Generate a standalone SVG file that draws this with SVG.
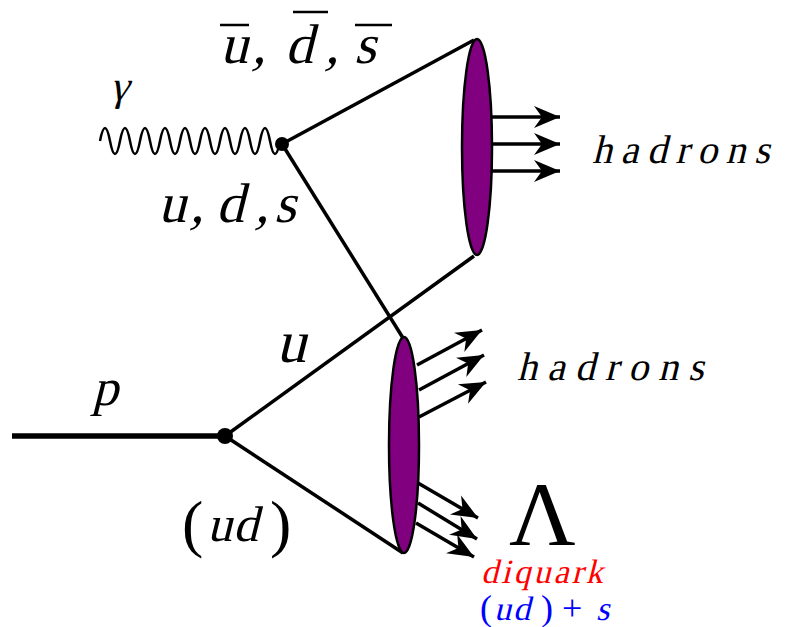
<svg xmlns="http://www.w3.org/2000/svg" width="790" height="627" viewBox="0 0 790 627">
<defs>
<marker id="ah" markerUnits="userSpaceOnUse" markerWidth="30" markerHeight="26" refX="26" refY="12" orient="auto" viewBox="0 0 30 26">
<path d="M26,12 L0,1 L8,12 L0,23 Z" fill="#000"/>
</marker>
</defs>
<g id="connectors" stroke="#000" stroke-width="3.5" fill="none">
<path id="photon" stroke-width="2.5" d="M100,141 q5,-26 10,0 t10,0 t10,0 t10,0 t10,0 t10,0 t10,0 t10,0 t10,0 t10,0 t10,0 t10,0 t10,0 t10,0 t10,0 t10,0 t10,0 t10,0"/>
<line x1="282" y1="144" x2="474" y2="40"/>
<line x1="282" y1="144" x2="403" y2="338"/>
<line x1="474" y1="256" x2="225" y2="436"/>
<line x1="225" y1="436" x2="403" y2="553"/>
<line id="proton" stroke-width="5.5" x1="12" y1="436" x2="225" y2="436"/>
<g marker-end="url(#ah)">
<line x1="490" y1="117" x2="560" y2="117"/>
<line x1="492" y1="144" x2="560" y2="144"/>
<line x1="490" y1="171" x2="560" y2="171"/>
<line x1="417" y1="365" x2="482" y2="330"/>
<line x1="419" y1="390" x2="484" y2="355"/>
<line x1="419" y1="417" x2="486" y2="382"/>
<line x1="418" y1="483" x2="478" y2="518"/>
<line x1="418" y1="503" x2="477" y2="539"/>
<line x1="416" y1="523" x2="474" y2="557"/>
</g>
</g>
<g id="vertex-top"><circle cx="282" cy="144" r="7" fill="#000"/></g>
<g id="vertex-proton"><circle cx="225" cy="436" r="8" fill="#000"/></g>
<g id="blob-top"><ellipse cx="477" cy="147" rx="15" ry="108" fill="#800080" stroke="#000" stroke-width="2.5"/></g>
<g id="blob-bottom"><ellipse cx="404" cy="445" rx="15" ry="108" fill="#800080" stroke="#000" stroke-width="2.5"/></g>
<g id="labels" font-family="Liberation Serif, Times New Roman, serif" fill="#000">
<text transform="translate(110,100) skewX(-14)" font-size="42">γ</text>
<text transform="translate(220,63) skewX(-14)" font-size="56">u</text>
<text transform="translate(252,63) skewX(-14)" font-size="56">,</text>
<text transform="translate(285,63) skewX(-14)" font-size="56">d</text>
<text transform="translate(325,63) skewX(-14)" font-size="56">,</text>
<text transform="translate(354,63) skewX(-14)" font-size="56">s</text>
<text transform="translate(158,222) skewX(-14)" font-size="56">u</text>
<text transform="translate(190,222) skewX(-14)" font-size="56">,</text>
<text transform="translate(216,222) skewX(-14)" font-size="56">d</text>
<text transform="translate(255,222) skewX(-14)" font-size="56">,</text>
<text transform="translate(274,222) skewX(-14)" font-size="56">s</text>
<text transform="translate(592,163) skewX(-14)" font-size="40" letter-spacing="8.5">hadrons</text>
<text transform="translate(517,380) skewX(-14)" font-size="40" letter-spacing="10">hadrons</text>
<text transform="translate(276,362) skewX(-14)" font-size="60">u</text>
<text transform="translate(92,405) skewX(-14)" font-size="52">p</text>
<text x="182" y="545" font-size="64">(</text>
<text transform="translate(207,541) skewX(-14)" font-size="50">u</text>
<text transform="translate(233,541) skewX(-14)" font-size="50">d</text>
<text x="270" y="545" font-size="64">)</text>
<text x="509" y="545" font-size="92">Λ</text>
<text transform="translate(481,583) skewX(-14)" font-size="34" fill="#ff0000" letter-spacing="3">diquark</text>
<text x="480" y="620" font-size="36" fill="#0000ff">(</text>
<text transform="translate(494,620) skewX(-14)" font-size="34" fill="#0000ff" letter-spacing="2">ud</text>
<text x="541" y="620" font-size="36" fill="#0000ff">) +</text>
<text transform="translate(596,620) skewX(-14)" font-size="34" fill="#0000ff">s</text>
</g>
<g id="overbars" stroke="#000" stroke-width="2.5">
<line x1="220" y1="25" x2="249" y2="25"/>
<line x1="293" y1="12" x2="328" y2="12"/>
<line x1="355" y1="25" x2="392" y2="25"/>
</g>
</svg>
